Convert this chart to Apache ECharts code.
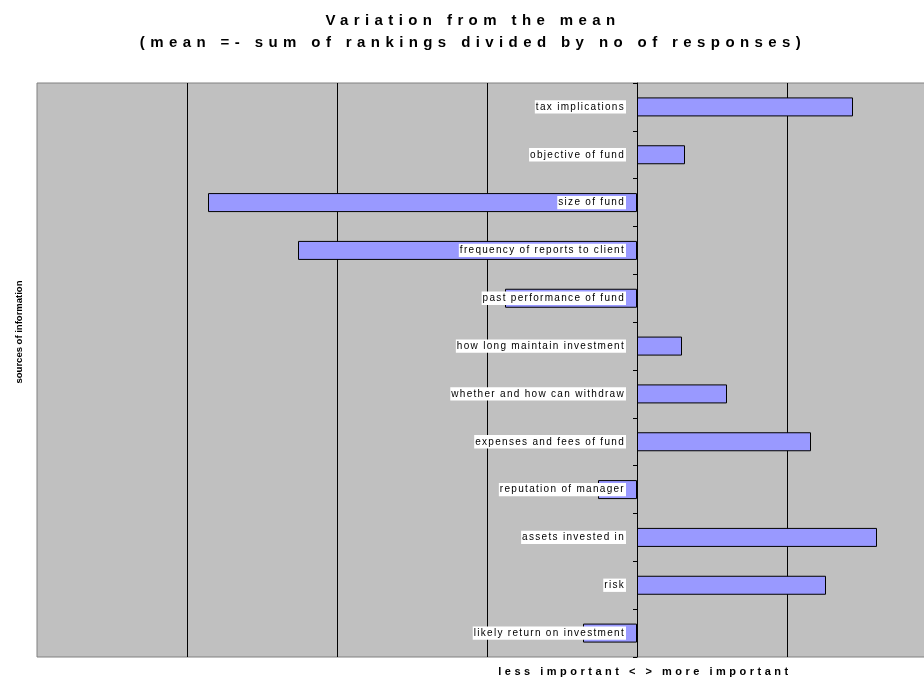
<!DOCTYPE html>
<html>
<head>
<meta charset="utf-8">
<title>Variation from the mean</title>
<script src="https://cdn.jsdelivr.net/npm/echarts@6/dist/echarts.min.js"></script>
<style>
    html, body { margin: 0; padding: 0; background: #fff; }
    #chart { width: 924px; height: 682px; }
</style>
</head>
<body>
<div id="chart"></div>
<script>
// sources of information, top to bottom
var categories = [
    'tax implications',
    'objective of fund',
    'size of fund',
    'frequency of reports to client',
    'past performance of fund',
    'how long maintain investment',
    'whether and how can withdraw',
    'expenses and fees of fund',
    'reputation of manager',
    'assets invested in',
    'risk',
    'likely return on investment'
];
// variation from the mean
var variation = [1.44, 0.32, -2.86, -2.26, -0.88, 0.30, 0.60, 1.16, -0.26, 1.60, 1.26, -0.36];

var titleText = 'Variation from the mean\n(mean =- sum of rankings divided by no of responses)';
var xName = 'less important < > more important';
var yName = 'sources of information';

// the old chart has wide letter spacing, echarts has no option for it,
// so set it on the canvas context by font size
var LETTER_SPACING = {'15px': 5.4, '11px': 3.5, '10px': 1.3};
function spacingFor(font){
    var m = /([\d.]+px)/.exec(font || '');
    return (m && LETTER_SPACING[m[1]]) ? LETTER_SPACING[m[1]] + 'px' : '0px';
}
var proto = CanvasRenderingContext2D.prototype;
if ('letterSpacing' in proto) {
    ['fillText', 'strokeText', 'measureText'].forEach(function(fn){
        var orig = proto[fn];
        proto[fn] = function(){
            this.letterSpacing = spacingFor(this.font);
            return orig.apply(this, arguments);
        };
    });
}

var FONT = 'Liberation Sans';
var X_MIN = -4, X_MAX = 2;
var GRID_LEFT = 37, GRID_RIGHT = -13;
// category axis sits on the zero line, like the excel chart
var plotWidth = 924 - GRID_LEFT - GRID_RIGHT;
var zeroOffset = plotWidth * (0 - X_MIN) / (X_MAX - X_MIN);

var option = {
    animation: false,
    title: {
        text: titleText,
        left: 473,
        top: 10,
        padding: 0,
        textAlign: 'center',
        textStyle: {
            fontFamily: FONT,
            fontSize: 15,
            fontWeight: 'bold',
            color: '#000',
            lineHeight: 22
        }
    },
    grid: {
        left: GRID_LEFT,
        right: GRID_RIGHT,
        top: 83,
        bottom: 25,
        containLabel: false,
        outerBoundsMode: 'none',
        show: true,
        backgroundColor: '#c0c0c0',
        borderColor: '#808080',
        borderWidth: 1
    },
    xAxis: {
        type: 'value',
        min: X_MIN,
        max: X_MAX,
        interval: 1,
        axisLine: {show: false},
        axisTick: {show: false},
        axisLabel: {show: false},
        splitLine: {
            show: true,
            showMinLine: false,
            lineStyle: {color: '#000', width: 1}
        }
    },
    yAxis: {
        type: 'category',
        data: categories,
        inverse: true,
        offset: -zeroOffset,
        z: 5,
        axisLine: {
            show: true,
            onZero: false,
            lineStyle: {color: '#000', width: 1}
        },
        axisTick: {
            show: true,
            length: 4,
            lineStyle: {color: '#000'}
        },
        axisLabel: {
            interval: 0,
            margin: 11,
            fontFamily: FONT,
            fontSize: 10,
            color: '#000',
            backgroundColor: '#fff',
            padding: [1, 1, 1, 1]
        },
        splitLine: {show: false}
    },
    series: [{
        type: 'bar',
        data: variation,
        barWidth: 19,
        itemStyle: {
            color: '#9999ff',
            borderColor: '#000',
            borderWidth: 1
        }
    }],
    graphic: [
        {
            type: 'text',
            x: 645,
            y: 672,
            style: {
                text: xName,
                fontFamily: FONT,
                fontSize: 11,
                fontWeight: 'bold',
                fill: '#000',
                align: 'center',
                verticalAlign: 'middle'
            }
        },
        {
            type: 'text',
            x: 19,
            y: 332,
            rotation: Math.PI / 2,
            style: {
                text: yName,
                fontFamily: FONT,
                fontSize: 9.5,
                fontWeight: 'bold',
                fill: '#000',
                align: 'center',
                verticalAlign: 'middle'
            }
        }
    ]
};

var myChart = echarts.init(document.getElementById('chart'), null, {renderer: 'canvas'});
myChart.setOption(option);
</script>
</body>
</html>
